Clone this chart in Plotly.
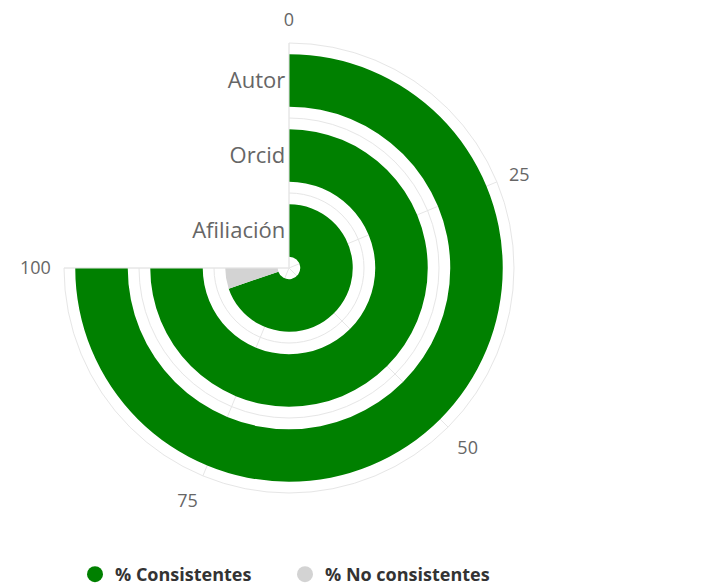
import plotly.graph_objects as go

# Datos (de dentro hacia fuera)
categorias = ["Afiliación", "Orcid", "Autor"]
consistentes = [93, 100, 100]
no_consistentes = [7, 0, 0]
ticks_valor = [0, 25, 50, 75, 100]

VERDE = "#008000"
GRIS = "#d3d3d3"
GRID = "#e6e6e6"
DEG = 270 / 100  # 0-100 ocupa 270 grados

W, H = 708, 585

fig = go.Figure()

bases = [i + 0.15 for i in range(len(categorias))]

fig.add_trace(go.Barpolar(
    theta=[v / 2 * DEG for v in consistentes],
    width=[v * DEG for v in consistentes],
    r=[0.7] * len(categorias), base=bases,
    marker=dict(color=VERDE, line=dict(width=0)),
    name="% Consistentes", showlegend=False,
))
fig.add_trace(go.Barpolar(
    theta=[(c + n / 2) * DEG for c, n in zip(consistentes, no_consistentes)],
    width=[n * DEG for n in no_consistentes],
    r=[0.7] * len(categorias), base=bases,
    marker=dict(color=GRIS, line=dict(width=0)),
    name="% No consistentes", showlegend=False,
))

# Leyenda con círculos
for nombre, color in [("% Consistentes", VERDE), ("% No consistentes", GRIS)]:
    fig.add_trace(go.Scatterpolar(
        r=[None], theta=[None], mode="markers", name=nombre,
        marker=dict(color=color, size=16, symbol="circle"),
    ))

rad_vals, rad_text = [], []
for i, c in enumerate(categorias):
    rad_vals += [i + 0.5, i + 1]
    rad_text += [c, ""]

fig.update_layout(
    width=W, height=H,
    margin=dict(l=0, r=0, t=0, b=0, autoexpand=False),
    paper_bgcolor="white",
    font=dict(family="Open Sans", color="#666666"),
    polar=dict(
        # el body de la página añade 8 px de margen
        domain=dict(x=[56 / W, 506 / W], y=[100 / H, 550 / H]),
        sector=[-180, 90],
        bgcolor="white",
        radialaxis=dict(
            range=[0, 3], tickvals=rad_vals, ticktext=rad_text,
            angle=90, tickangle=90, side="counterclockwise",
            showline=False, ticks="",
            gridcolor=GRID, gridwidth=1,
            tickfont=dict(size=22, color="#666666"),
        ),
        angularaxis=dict(
            rotation=90, direction="clockwise",
            tickvals=[v * DEG for v in ticks_valor],
            ticktext=[str(v) for v in ticks_valor],
            ticks="outside", ticklen=9, tickcolor="rgba(0,0,0,0)",
            showline=True, linecolor=GRID, linewidth=1,
            gridcolor=GRID, gridwidth=1,
            tickfont=dict(size=18, color="#666666"),
        ),
    ),
    legend=dict(
        orientation="h", x=67 / W, xanchor="left", y=0.0, yanchor="bottom",
        font=dict(size=18, color="#333333", weight="bold"),
        entrywidth=165,
    ),
)

fig.write_html("out.html")
